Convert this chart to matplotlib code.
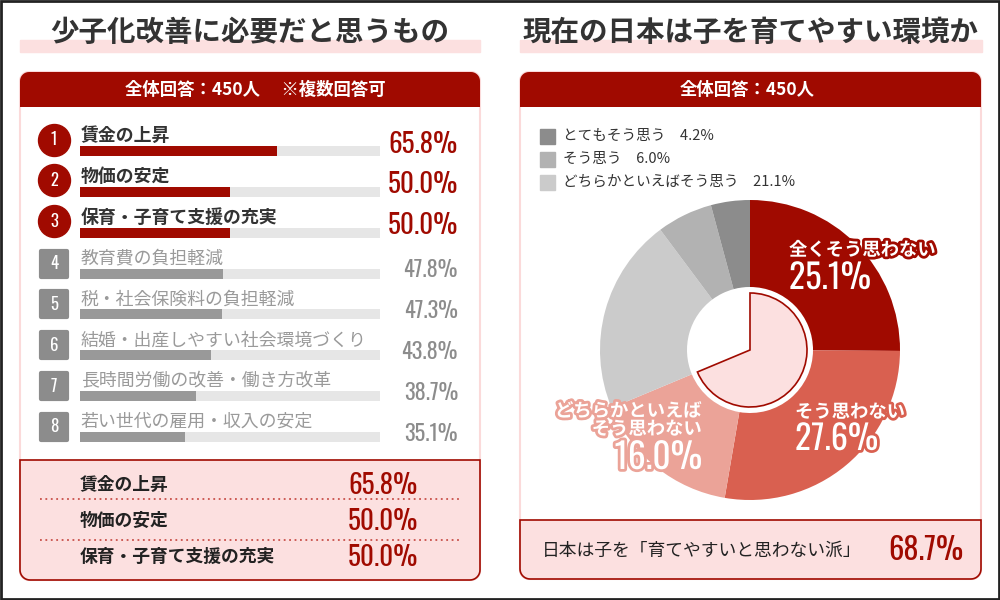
import numpy as np
import matplotlib
matplotlib.use("Agg")
import matplotlib.pyplot as plt
from matplotlib.patches import Polygon, Rectangle
import matplotlib.patheffects as pe

plt.rcParams['font.family'] = ['Noto Sans CJK JP', 'DejaVu Sans']
NUM = ['Oswald', 'Antonio', 'Roboto Condensed', 'DejaVu Sans']

# data - left chart
items = ["賃金の上昇", "物価の安定", "保育・子育て支援の充実", "教育費の負担軽減",
         "税・社会保険料の負担軽減", "結婚・出産しやすい社会環境づくり",
         "長時間労働の改善・働き方改革", "若い世代の雇用・収入の安定"]
item_pct = [65.8, 50.0, 50.0, 47.8, 47.3, 43.8, 38.7, 35.1]

# data - right chart (clockwise from 12 o'clock)
answers = ["全くそう思わない", "そう思わない", "どちらかといえばそう思わない",
           "どちらかといえばそう思う", "そう思う", "とてもそう思う"]
answer_pct = [25.1, 27.6, 16.0, 21.1, 6.0, 4.2]

RED = '#a00a00'
PINK = '#fce0e0'
EDGE = '#fbdada'
GRAY = '#8c8c8c'
ring_colors = [RED, '#d96050', '#eba398', '#cbcbcb', '#b2b2b2', GRAY]

fig = plt.figure(figsize=(10, 6), dpi=100)
ax = fig.add_axes([0, 0, 1, 1])
ax.set_xlim(0, 1000)
ax.set_ylim(600, 0)
ax.axis('off')


def rrect(x0, y0, x1, y1, r, top=True, bottom=True, **kw):
    pts = []

    def corner(cx, cy, a0, a1, px, py, on):
        if on:
            t = np.radians(np.linspace(a0, a1, 10))
            pts.extend(zip(cx + r * np.cos(t), cy + r * np.sin(t)))
        else:
            pts.append((px, py))
    corner(x0 + r, y0 + r, 180, 270, x0, y0, top)
    corner(x1 - r, y0 + r, 270, 360, x1, y0, top)
    corner(x1 - r, y1 - r, 0, 90, x1, y1, bottom)
    corner(x0 + r, y1 - r, 90, 180, x0, y1, bottom)
    p = Polygon(pts, closed=True, **kw)
    ax.add_patch(p)
    return p


def fig_rect(x0, y0, x1, y1):
    return [x0 / 1000, (600 - y1) / 600, (x1 - x0) / 1000, (y1 - y0) / 600]


# outer frame
ax.add_patch(Rectangle((1, 1), 998, 598, fill=False, edgecolor='#222', lw=2, zorder=10))

# titles
for cx, x0, x1, title in [(250, 20, 480, "少子化改善に必要だと思うもの"),
                          (751, 520, 982, "現在の日本は子を育てやすい環境か")]:
    ax.add_patch(Rectangle((x0, 40), x1 - x0, 12, color=PINK, zorder=1))
    ax.text(cx, 33, title, ha='center', va='center', fontsize=20.5,
            fontweight='bold', color='#333', zorder=3)

# ---- left panel
rrect(20, 72, 480, 580, 9, facecolor='white', edgecolor=EDGE, lw=1.5, zorder=1)
rrect(20, 72, 480, 107, 9, bottom=False, facecolor=RED, edgecolor='none', zorder=2)
ax.text(255, 90, "全体回答：450人　 ※複数回答可", ha='center', va='center',
        fontsize=12.5, fontweight='bold', color='white', zorder=3)
rrect(20, 460, 480, 580, 10, top=False, facecolor=PINK, edgecolor=RED, lw=1.2, zorder=2)

for i in range(3):
    y = 485 + 36 * i
    ax.text(80, y, items[i], ha='left', va='center', fontsize=12.8,
            fontweight='bold', color='#222', zorder=3)
    ax.text(418, y, f"{item_pct[i]:.1f}%", ha='right', va='center',
            fontsize=19.5, fontweight='bold', color=RED, family=NUM, zorder=3)
for y in [499, 540]:
    ax.plot([40, 460], [y, y], color='#c8504a', lw=1.3, ls=(0, (1, 2)), zorder=3)

# bar chart axes
axb = fig.add_axes(fig_rect(80, 130.6, 380, 457.4))
axb.set_xlim(0, 100)
axb.set_ylim(7.5, -0.5)
axb.axis('off')
rows = np.arange(len(items))
top = rows < 3
bar_h = 10 / 40.85
axb.barh(rows, 100, height=bar_h, color='#e6e6e6')
axb.barh(rows, item_pct, height=bar_h, color=np.where(top, RED, '#999999'))

axb.scatter(np.full(3, -8.67), rows[top] - 0.28, s=530, color=RED, clip_on=False, zorder=3)
axb.scatter(np.full(5, -8.67), rows[~top] - 0.245, s=330, marker='s', color=GRAY,
            edgecolor=GRAY, lw=3, joinstyle='round', clip_on=False, zorder=3)
for i in rows:
    mark_y = i - (0.28 if i < 3 else 0.245)
    axb.text(-8.67, mark_y, str(i + 1), ha='center', va='center', fontsize=12,
             color='white', family=NUM, zorder=4)
    axb.text(0.2, i - 0.37, items[i], ha='left', va='center', fontsize=12.9,
             fontweight='bold' if i < 3 else 'normal',
             color='#333' if i < 3 else '#9a9a9a')
    if i < 3:
        axb.text(126, i - 0.17, f"{item_pct[i]:.1f}%", ha='right', va='center',
                 fontsize=19.5, fontweight='bold', color=RED, family=NUM)
    else:
        axb.text(126, i - 0.085, f"{item_pct[i]:.1f}%", ha='right', va='center',
                 fontsize=16, color=GRAY, family=NUM)

# ---- right panel
rrect(520, 72, 981, 579, 9, facecolor='white', edgecolor=EDGE, lw=1.5, zorder=1)
rrect(520, 72, 981, 107, 9, bottom=False, facecolor=RED, edgecolor='none', zorder=2)
ax.text(747, 90, "全体回答：450人", ha='center', va='center',
        fontsize=12.5, fontweight='bold', color='white', zorder=3)
rrect(520, 520, 981, 579, 10, top=False, facecolor=PINK, edgecolor=RED, lw=1.2, zorder=2)

no_total = sum(answer_pct[:3])
ax.text(542, 551, "日本は子を「育てやすいと思わない派」", ha='left', va='center',
        fontsize=12.8, color='#222', zorder=3)
ax.text(963, 551, f"{no_total:.1f}%", ha='right', va='center', fontsize=22,
        fontweight='bold', color=RED, family=NUM, zorder=3)

# legend (the "yes" side)
for k, j in enumerate([5, 4, 3]):
    y = 136 + 23 * k
    ax.add_patch(Rectangle((540, y - 7.5), 15, 15, color=ring_colors[j], zorder=3))
    ax.text(563, y, f"{answers[j]}　{answer_pct[j]:.1f}%", ha='left', va='center',
            fontsize=10.5, color='#333', zorder=3)

# donut
axp = fig.add_axes(fig_rect(600, 200, 900, 500))
axp.pie(answer_pct, colors=ring_colors, startangle=90, counterclock=False,
        radius=1, wedgeprops=dict(width=1 - 63 / 150, edgecolor='none'))
inner, _ = axp.pie([no_total, 100 - no_total], colors=[PINK, 'white'], startangle=90,
                   counterclock=False, radius=57 / 150,
                   wedgeprops=dict(edgecolor=RED, linewidth=1.2))
inner[1].set_visible(False)
axp.set_xlim(-1, 1)
axp.set_ylim(-1, 1)
axp.axis('off')


def outlined(x, y, s, stroke, ha, size, num=False):
    # figure-level text so it sits above the donut axes
    fig.text(x, y, s, transform=ax.transData, ha=ha, va='center', fontsize=size,
             fontweight='bold', color='white', family=NUM if num else None,
             path_effects=[pe.withStroke(linewidth=4, foreground=stroke)])


outlined(789, 250, answers[0], ring_colors[0], 'left', 13.2)
outlined(789, 278, f"{answer_pct[0]:.1f}%", ring_colors[0], 'left', 24.5, True)
outlined(795, 412, answers[1], ring_colors[1], 'left', 13.2)
outlined(795, 439, f"{answer_pct[1]:.1f}%", ring_colors[1], 'left', 24.5, True)
outlined(702, 411, answers[2][:8], ring_colors[2], 'right', 13.2)
outlined(702, 429, answers[2][8:], ring_colors[2], 'right', 13.2)
outlined(702, 458, f"{answer_pct[2]:.1f}%", ring_colors[2], 'right', 25.5, True)

fig.savefig("out.png", dpi=100)
